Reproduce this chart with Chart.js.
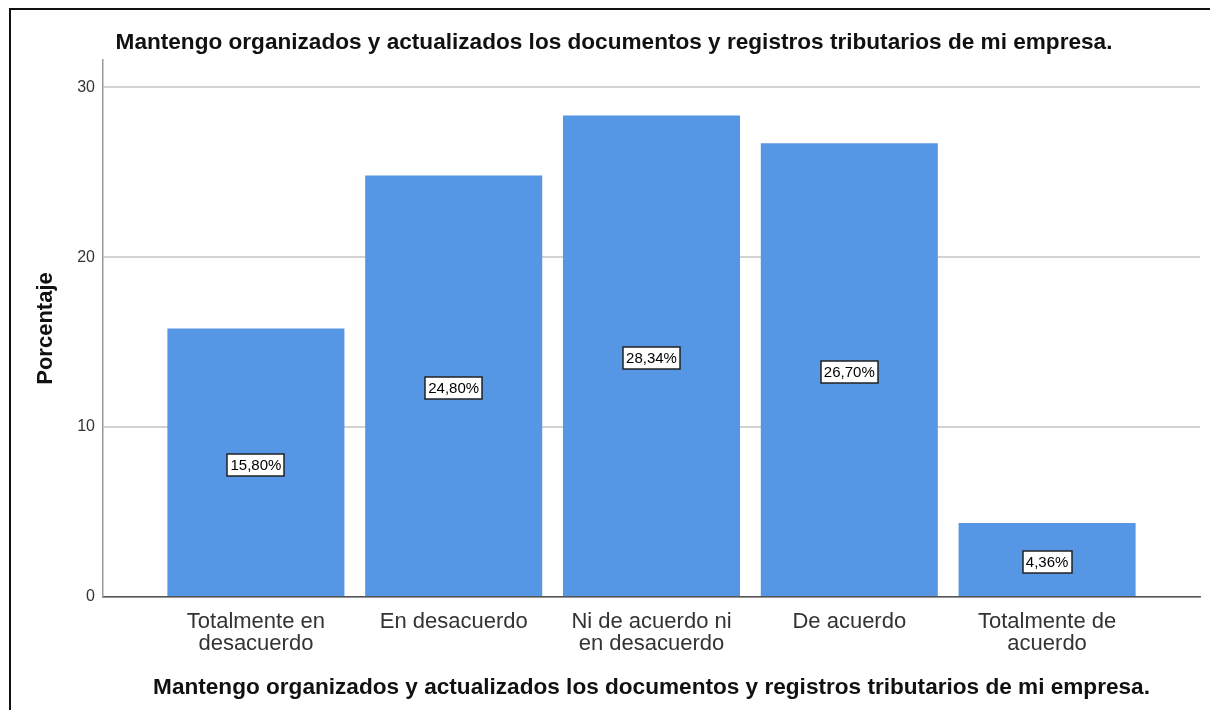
<!DOCTYPE html>
<html>
<head>
<meta charset="utf-8">
<script src="https://cdn.jsdelivr.net/npm/chart.js@4/dist/chart.umd.min.js"></script>
<style>
body { margin: 0; background: #fff; }
</style>
</head>
<body>
<canvas id="grafico" width="1210" height="710"></canvas>
<script>
var categorias = [["Totalmente en", "desacuerdo"], "En desacuerdo", ["Ni de acuerdo ni", "en desacuerdo"], "De acuerdo", ["Totalmente de", "acuerdo"]];
var porcentajes = [15.80, 24.80, 28.34, 26.70, 4.36];
var etiquetas = ["15,80%", "24,80%", "28,34%", "26,70%", "4,36%"];
var ticksY = [0, 10, 20, 30];
var titulo = "Mantengo organizados y actualizados los documentos y registros tributarios de mi empresa.";

var fuente = "'Liberation Sans', Arial, sans-serif";

// cajas blancas con el porcentaje en medio de cada barra
var cajasPlugin = {
	id: "cajas",
	afterDatasetsDraw: function(chart)
	{
		var ctx = chart.ctx;
		var meta = chart.getDatasetMeta(0);
		var ys = chart.scales.y;
		ctx.save();
		ctx.font = "15px " + fuente;
		ctx.textAlign = "center";
		ctx.textBaseline = "middle";
		for (var i = 0; i < meta.data.length; i++)
		{
			var bar = meta.data[i];
			var cy = Math.round(ys.getPixelForValue(porcentajes[i] / 2) + 2);
			var w = Math.round(ctx.measureText(etiquetas[i]).width + 6);
			var h = 22;
			var x0 = Math.round(bar.x - w / 2);
			ctx.fillStyle = "#fff";
			ctx.fillRect(x0, cy - h / 2, w, h);
			ctx.strokeStyle = "#222";
			ctx.lineWidth = 1.5;
			ctx.strokeRect(x0, cy - h / 2, w, h);
			ctx.fillStyle = "#000";
			ctx.fillText(etiquetas[i], bar.x, cy + 1);
		}
		ctx.restore();
	}
};

// titulos y marco
var textosPlugin = {
	id: "textos",
	afterDraw: function(chart)
	{
		var ctx = chart.ctx;
		var area = chart.chartArea;
		ctx.save();
		ctx.strokeStyle = "#111";
		ctx.lineWidth = 2;
		ctx.beginPath();
		ctx.moveTo(10, 710);
		ctx.lineTo(10, 9);
		ctx.lineTo(1210, 9);
		ctx.stroke();

		ctx.fillStyle = "#111";
		ctx.font = "bold 22.6px " + fuente;
		ctx.textAlign = "center";
		ctx.textBaseline = "middle";
		ctx.fillText(titulo, 614, 43);
		ctx.fillText(titulo, (area.left + area.right) / 2, 688);

		ctx.font = "bold 22px " + fuente;
		ctx.translate(46, (area.top + area.bottom) / 2);
		ctx.rotate(-Math.PI / 2);
		ctx.fillText("Porcentaje", 0, 0);
		ctx.restore();
	}
};

var datos = [];
for (var i = 0; i < porcentajes.length; i++)
{
	datos.push({ x: i, y: porcentajes[i] });
}

new Chart("grafico", {
	type: "bar",
	data: {
		datasets: [{
			data: datos,
			backgroundColor: "#5596e5",
			borderWidth: 0,
			barPercentage: 0.895,
			categoryPercentage: 1
		}]
	},
	options: {
		responsive: false,
		animation: false,
		layout: { padding: { top: 60, right: 10, left: 0, bottom: 0 } },
		plugins: {
			legend: { display: false },
			tooltip: { enabled: false }
		},
		scales: {
			x: {
				type: "linear",
				offset: false,
				bounds: "data",
				min: -0.773,
				max: 4.773,
				afterBuildTicks: function(scale)
				{
					scale.ticks = categorias.map(function(c, i) { return { value: i }; });
				},
				afterFit: function(scale) { scale.height = 113; },
				grid: { display: false, drawTicks: false, offset: false },
				border: { display: true, color: "#555", width: 1.5 },
				ticks: {
					padding: 14,
					maxRotation: 0,
					autoSkip: false,
					color: "#333",
					font: { family: fuente, size: 22, lineHeight: 1.0 },
					callback: function(v) { return categorias[v]; }
				}
			},
			y: {
				min: 0,
				max: 31.6,
				afterBuildTicks: function(scale)
				{
					scale.ticks = ticksY.map(function(v) { return { value: v }; });
				},
				afterFit: function(scale) { scale.width = 103; },
				grid: { color: "#d2d2d2", lineWidth: 2, drawTicks: false },
				border: { display: true, color: "#999", width: 1.5 },
				ticks: {
					padding: 8,
					color: "#333",
					font: { family: fuente, size: 16 }
				}
			}
		}
	},
	plugins: [cajasPlugin, textosPlugin]
});
</script>
</body>
</html>
